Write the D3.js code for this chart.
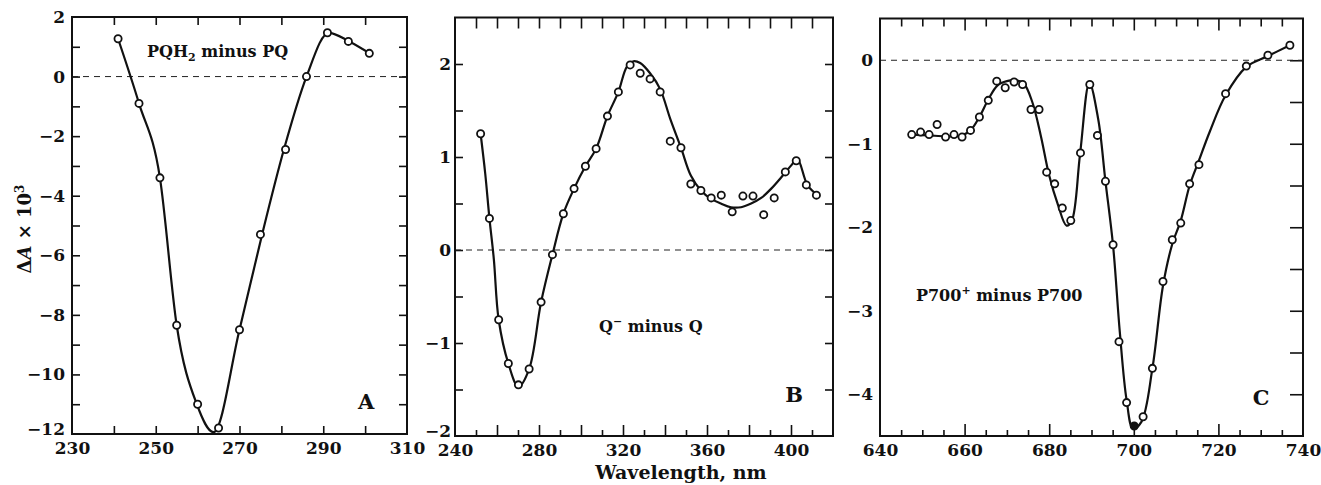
<!DOCTYPE html>
<html>
<head>
<meta charset="utf-8">
<script src="https://cdn.jsdelivr.net/npm/d3@7"></script>
<style>
  body { margin: 0; background: #fff; }
  svg text { font-family: "DejaVu Serif", serif; font-weight: bold; fill: #111; }
</style>
</head>
<body>
<div id="chart"></div>
<script>
// panel A: PQH2 minus PQ (measured points + drawn curve)
const waveA = [241, 246, 251, 255, 260, 265, 270, 275, 281, 286, 291, 296, 301];
const valueA = [1.27, -0.9, -3.4, -8.35, -11.0, -11.8, -8.5, -5.3, -2.45, 0, 1.47, 1.18, 0.78];
const curveWaveA = [241, 246, 251, 255, 259.8, 263.8, 270, 275.4, 280.6, 286, 291.3, 296.2, 301.1];
const curveValueA = [1.27, -0.9, -3.4, -8.35, -11.0, -11.94, -8.5, -5.3, -2.45, 0, 1.47, 1.18, 0.78];
const xLabelsA = [230, 250, 270, 290, 310];
const yLabelsA = [2, 0, -2, -4, -6, -8, -10, -12];

// panel B: Q- minus Q
const waveB = [252.2, 256.4, 260.8, 265.4, 270.2, 275.3, 281, 286.4, 291.6, 296.7, 302.1, 307.2, 312.6,
  317.8, 323.4, 328.2, 332.9, 337.7, 342.5, 347.6, 352.3, 357.1, 362, 366.8, 372, 377.1, 381.9, 387,
  392, 397.3, 402.5, 407.3, 412.1];
const valueB = [1.25, 0.34, -0.75, -1.22, -1.45, -1.28, -0.56, -0.05, 0.39, 0.66, 0.9, 1.09, 1.44,
  1.7, 1.99, 1.9, 1.84, 1.7, 1.17, 1.1, 0.71, 0.64, 0.56, 0.59, 0.41, 0.58, 0.58, 0.38,
  0.56, 0.84, 0.96, 0.7, 0.59];
const curveWaveB = [252.2, 254.4, 256.4, 258.5, 260.8, 265.4, 270.2, 275.3, 281, 286.4, 291.6, 296.7,
  302.1, 307.2, 312.6, 317.8, 321.8, 325, 328.2, 332.9, 337.7, 342.5, 347.6, 352.3, 357.1, 361.9,
  366.6, 371.4, 376.2, 381, 385.8, 390.6, 395.3, 400.1, 403, 407.8, 412.5];
const curveValueB = [1.25, 0.82, 0.34, -0.1, -0.75, -1.22, -1.47, -1.28, -0.56, -0.05, 0.39, 0.66,
  0.9, 1.09, 1.44, 1.7, 1.97, 2.03, 2.01, 1.9, 1.73, 1.41, 1.1, 0.8, 0.64, 0.55,
  0.5, 0.46, 0.46, 0.5, 0.56, 0.66, 0.78, 0.91, 0.98, 0.7, 0.59];
const xLabelsB = [240, 280, 320, 360, 400];
const yLabelsB = [2, 1, 0, -1, -2];

// panel C: P700+ minus P700
const waveC = [647.5, 649.6, 651.6, 653.5, 655.5, 657.5, 659.4, 661.4, 663.5, 665.6, 667.6, 669.6,
  671.7, 673.7, 675.7, 677.6, 679.4, 681.3, 683.1, 685.1, 687.4, 689.6, 691.4, 693.3, 695.1,
  696.5, 698.3, 700.1, 702.2, 704.4, 706.9, 709.1, 711.1, 713.2, 715.4, 721.7, 726.6, 731.7, 736.9];
const valueC = [-0.89, -0.86, -0.89, -0.77, -0.92, -0.89, -0.92, -0.84, -0.68, -0.48, -0.25, -0.33,
  -0.26, -0.29, -0.59, -0.59, -1.34, -1.48, -1.77, -1.92, -1.11, -0.29, -0.9, -1.45, -2.21,
  -3.37, -4.1, -4.38, -4.27, -3.69, -2.65, -2.15, -1.95, -1.48, -1.25, -0.4, -0.07, 0.06, 0.18];
const curveWaveC = [647.5, 651.6, 655.5, 659.4, 661.4, 663.5, 665.6, 667.8, 670, 672, 674, 676, 678,
  680, 682, 684.1, 685.3, 687.3, 689.5, 691.6, 693.3, 695.1, 696.7, 698.3, 699.8, 701.8, 704.4,
  706.9, 709.1, 711.1, 713.2, 715.4, 718, 721.7, 726.6, 731.7, 736.9];
const curveValueC = [-0.89, -0.9, -0.91, -0.9, -0.84, -0.68, -0.47, -0.3, -0.25, -0.24, -0.28, -0.5, -0.9,
  -1.38, -1.72, -1.98, -1.93, -1.12, -0.27, -0.71, -1.45, -2.22, -3.26, -4.07, -4.41, -4.33, -3.69,
  -2.7, -2.2, -1.92, -1.5, -1.2, -0.85, -0.42, -0.08, 0.05, 0.18];
const solidWaveC = [700.1];
const xLabelsC = [640, 660, 680, 700, 720, 740];
const yLabelsC = [0, -1, -2, -3, -4];

const width = 1321, height = 485;
const svg = d3.select("#chart").append("svg")
    .attr("width", width)
    .attr("height", height);

const fmt = d3.format("d");

function drawPanel(p) {
  let x = d3.scaleLinear().domain(p.xDomain).range([p.left, p.right]);
  let y = d3.scaleLinear().domain(p.yDomain).range([p.bottom, p.top]);
  let g = svg.append("g");

  // tick marks, all pointing inwards
  p.ticks.forEach(t => {
    let axis;
    if (t.side == "bottom") axis = d3.axisBottom(x);
    if (t.side == "top") axis = d3.axisTop(x);
    if (t.side == "left") axis = d3.axisLeft(y);
    if (t.side == "right") axis = d3.axisRight(y);
    axis.tickValues(t.values).tickSize(-t.size).tickFormat("");
    let pos = {bottom: [0, p.bottom], top: [0, p.top], left: [p.left, 0], right: [p.right, 0]}[t.side];
    let a = g.append("g")
        .attr("transform", "translate(" + pos[0] + "," + pos[1] + ")")
        .call(axis);
    a.select(".domain").remove();
    a.selectAll("line").attr("stroke", "#111").attr("stroke-width", 1.6);
  });

  // tick labels
  let xa = g.append("g")
      .attr("transform", "translate(0," + p.bottom + ")")
      .call(d3.axisBottom(x).tickValues(p.xLabels).tickSize(0).tickPadding(8).tickFormat(fmt));
  xa.select(".domain").remove();
  xa.selectAll("text").attr("font-size", 17).attr("font-family", null).attr("fill", null);

  let ya = g.append("g")
      .attr("transform", "translate(" + p.left + ",0)")
      .call(d3.axisLeft(y).tickValues(p.yLabels).tickSize(0).tickPadding(p.yPad).tickFormat(fmt));
  ya.select(".domain").remove();
  ya.selectAll("text").attr("font-size", 17).attr("font-family", null).attr("fill", null);
  // lowest label sits just above the x labels, as in the original
  ya.selectAll("text").filter(d => d == p.yDomain[0]).attr("dy", "0.05em");

  // zero line
  g.append("line")
      .attr("x1", p.left).attr("x2", p.right)
      .attr("y1", y(0)).attr("y2", y(0))
      .attr("stroke", "#222").attr("stroke-width", 1)
      .attr("stroke-dasharray", "6,5");

  // frame
  g.append("rect")
      .attr("x", p.left).attr("y", p.top)
      .attr("width", p.right - p.left).attr("height", p.bottom - p.top)
      .attr("fill", "none").attr("stroke", "#111").attr("stroke-width", 2);

  // curve
  let line = d3.line()
      .x(d => x(d[0]))
      .y(d => y(d[1]))
      .curve(p.curve);
  g.append("path")
      .datum(d3.zip(p.curveWave, p.curveValue))
      .attr("d", line)
      .attr("fill", "none")
      .attr("stroke", "#111")
      .attr("stroke-width", 2.2);

  // measured points
  g.selectAll(".pt")
      .data(d3.zip(p.wave, p.value))
      .enter()
      .append("circle")
      .attr("cx", d => x(d[0]))
      .attr("cy", d => y(d[1]))
      .attr("r", 3.6)
      .attr("fill", d => p.solid.includes(d[0]) ? "#111" : "#fff")
      .attr("stroke", "#111")
      .attr("stroke-width", 1.8);

  // annotations
  let title = g.append("text")
      .attr("x", x(p.title.at[0]))
      .attr("y", y(p.title.at[1]))
      .attr("font-size", 16);
  p.title.parts.forEach(part => {
    let ts = title.append("tspan").text(part.t);
    if (part.sub) ts.attr("font-size", 11).attr("dy", 4);
    if (part.sup) ts.attr("font-size", 11).attr("dy", -7);
    if (part.back) ts.attr("dy", part.back);
  });

  g.append("text")
      .attr("x", x(p.letter.at[0]))
      .attr("y", y(p.letter.at[1]))
      .attr("font-size", 21)
      .text(p.letter.t);
}

const range10 = (a, b, s) => d3.range(a, b + s / 2, s);

drawPanel({
  xDomain: [230, 310], yDomain: [-12, 2],
  left: 72, right: 407, top: 17, bottom: 434,
  wave: waveA, value: valueA, curveWave: curveWaveA, curveValue: curveValueA, solid: [],
  curve: d3.curveMonotoneX,
  xLabels: xLabelsA, yLabels: yLabelsA, yPad: 7,
  ticks: [
    {side: "bottom", values: range10(240, 300, 10), size: 8},
    {side: "top", values: range10(240, 300, 10), size: 8},
    {side: "left", values: range10(-11, 1, 1), size: 8},
    {side: "right", values: range10(-11, 1, 1), size: 8}
  ],
  title: {at: [247.9, 0.65], parts: [{t: "PQH"}, {t: "2", sub: true}, {t: " minus PQ", back: -4}]},
  letter: {at: [298.3, -11.17], t: "A"}
});

drawPanel({
  xDomain: [240, 420], yDomain: [-2, 2.5],
  left: 455, right: 833, top: 17.5, bottom: 436,
  wave: waveB, value: valueB, curveWave: curveWaveB, curveValue: curveValueB, solid: [],
  curve: d3.curveCatmullRom.alpha(0.5),
  xLabels: xLabelsB, yLabels: yLabelsB, yPad: 4,
  ticks: [
    {side: "bottom", values: range10(260, 400, 20), size: 11},
    {side: "bottom", values: range10(250, 410, 20), size: 6},
    {side: "top", values: range10(250, 410, 10), size: 11},
    {side: "left", values: range10(-1.5, 2, 0.5), size: 8},
    {side: "right", values: range10(-1.5, 2, 0.5), size: 8}
  ],
  title: {at: [308.6, -0.88], parts: [{t: "Q"}, {t: "−", sup: true}, {t: " minus Q", back: 7}]},
  letter: {at: [397.3, -1.63], t: "B"}
});

drawPanel({
  xDomain: [640, 740], yDomain: [-4.5, 0.5],
  left: 880, right: 1303, top: 18.5, bottom: 436,
  wave: waveC, value: valueC, curveWave: curveWaveC, curveValue: curveValueC, solid: solidWaveC,
  curve: d3.curveCatmullRom.alpha(0.5),
  xLabels: xLabelsC, yLabels: yLabelsC, yPad: 7,
  ticks: [
    {side: "bottom", values: range10(660, 720, 20), size: 12},
    {side: "bottom", values: range10(645, 735, 5).filter(v => v % 20 != 0), size: 6},
    {side: "top", values: range10(660, 720, 20), size: 12},
    {side: "top", values: range10(645, 735, 5).filter(v => v % 20 != 0), size: 8},
    {side: "right", values: range10(-4, 0, 0.5), size: 13}
  ],
  title: {at: [648.5, -2.88], parts: [{t: "P700"}, {t: "+", sup: true}, {t: " minus P700", back: 7}]},
  letter: {at: [728.1, -4.13], t: "C"}
});

// shared axis titles
let yTitle = svg.append("text")
    .attr("transform", "translate(31,229) rotate(-90)")
    .attr("text-anchor", "middle")
    .attr("font-size", 18);
yTitle.append("tspan").text("Δ");
yTitle.append("tspan").attr("font-style", "italic").text("A");
yTitle.append("tspan").text(" × 10");
yTitle.append("tspan").attr("font-size", 12).attr("dy", -7).text("3");

svg.append("text")
    .attr("x", 681)
    .attr("y", 479)
    .attr("text-anchor", "middle")
    .attr("font-size", 19)
    .text("Wavelength, nm");
</script>
</body>
</html>
